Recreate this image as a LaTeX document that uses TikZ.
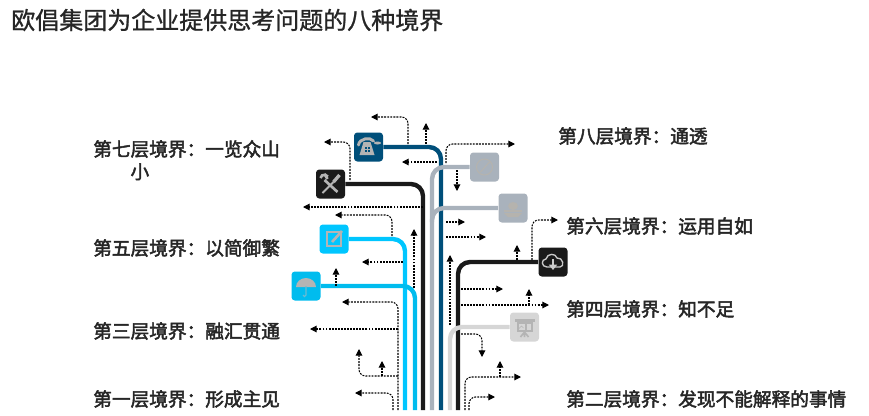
\documentclass[tikz,border=0pt]{standalone}
\usepackage{fontspec}
\setmainfont{Noto Sans CJK SC}
\newfontfamily\levelfont{Noto Sans CJK SC}[FakeBold=2.5]
\newfontfamily\titlefont{Noto Sans CJK SC}[FakeBold=1]
\usetikzlibrary{arrows.meta}
\newcommand{\widecolon}{\symbol{"FF1A}}
\definecolor{phoneblue}{HTML}{004F7A}
\definecolor{toolblack}{HTML}{1A1A1A}
\definecolor{pencilcyan}{HTML}{00C6FF}
\definecolor{umbrellacyan}{HTML}{00BCEE}
\definecolor{slategray}{HTML}{A9B2BC}
\definecolor{palegray}{HTML}{D6D6D6}
\definecolor{icongray}{HTML}{B4B4B4}
\definecolor{faintgray}{HTML}{B5B3AE}
\tikzset{
    icon box/.style = {
        minimum size=21.75pt,
        inner sep=0pt,
        rounded corners=2.5pt,
        },
    branch/.style = {
        line width=3.3pt,
        rounded corners=9pt,
        },
    hint/.style = {
        line width=0.8pt,
        dash pattern=on 1.4pt off 0.9pt,
        rounded corners=5pt,
        -{Triangle[length=5pt,width=5pt]},
        },
    level/.style = {
        anchor=west,
        inner sep=0pt,
        align=left,
        font=\fontsize{14pt}{17pt}\selectfont\levelfont,
        text=black!85,
        },
    phone icon/.pic = {
        \draw[icongray, line width=2.2pt, line cap=round] (-10,-2) .. controls (-9,-9) and (2,-10) .. (5,-6);
        \fill[icongray] (-5,-5) -- (2,-5) -- (6,8) -- (-9,8) -- cycle;
        \fill[phoneblue] (-4,0) rectangle (1,5);
        \draw[icongray, line width=0.6pt] (-1.5,0) -- (-1.5,5) (-4,2.5) -- (1,2.5);
        \fill[icongray] (9,-4) ellipse (3.5 and 1.5);
        },
    tools icon/.pic = {
        \draw[icongray, line width=2pt] (-6,-4) -- (7,8);
        \draw[icongray, line width=2pt] (-10,-6) arc (190:330:4);
        \draw[icongray, line width=2pt] (-3,-5) -- (-6,-10);
        \draw[icongray, line width=2.5pt] (9,-9) -- (3,-2);
        \draw[icongray, line width=1.5pt] (3,-2) -- (-8,9);
        },
    pencil icon/.pic = {
        \draw[icongray, line width=1.3pt] (-7,-7) rectangle (7,7);
        \draw[icongray, line width=2pt] (-2,3) -- (8,-8);
        },
    umbrella icon/.pic = {
        \fill[icongray] (-10,1) arc (180:360:10 and 9) -- cycle;
        \draw[icongray!60!pencilcyan, line width=0.8pt] (0,0) -- (0,9) arc (0:180:1.5);
        },
    slash icon/.pic = {
        \draw[faintgray, line width=0.8pt] (0,0) circle (8);
        \draw[faintgray, line width=0.8pt] (-4,5) -- (5,-5);
        },
    stack icon/.pic = {
        \fill[faintgray] (0,-2) ellipse (5 and 4);
        \draw[faintgray, line width=1.2pt] (-9,3) -- (9,3);
        \fill[faintgray] (-9,5) -- (9,5) -- (5,9) -- (-5,9) -- cycle;
        },
    cloud icon/.pic = {
        \draw[icongray!70!white, line width=1pt] (-6,5) .. controls (-12,5) and (-12,-3) .. (-7,-3) .. controls (-6,-9) and (3,-9) .. (4,-4) .. controls (10,-5) and (12,5) .. (7,5) -- cycle;
        \draw[icongray!70!white, line width=2pt, -{Triangle[length=4pt,width=6pt]}] (0,-3) -- (0,8);
        },
    board icon/.pic = {
        \fill[icongray] (-10,-8) rectangle (10,-5);
        \fill[icongray] (-8,-5) rectangle (8,5);
        \fill[palegray] (-6,-3) rectangle (0,3);
        \draw[icongray, line width=0.5pt] (-6,2) -- (-3,-1) -- (-1,1);
        \draw[palegray, line width=0.8pt] (2,-2) -- (6,-2) (2,0) -- (6,0) (2,2) -- (6,2);
        \draw[icongray, line width=1.2pt] (0,5) -- (0,10) (0,5) -- (-4,10) (0,5) -- (4,10);
        },
}
\begin{document}
\begin{tikzpicture}[x=0.75pt,y=-0.75pt]
    \useasboundingbox (0,0) rectangle (869,415);

    % icon boxes
    \node[icon box, fill=phoneblue] (phone) at (368.5,147) {};
    \node[icon box, fill=toolblack] (tools) at (330.5,184) {};
    \node[icon box, fill=pencilcyan] (pencil) at (334,239) {};
    \node[icon box, fill=umbrellacyan] (umbrella) at (306,286) {};
    \node[icon box, fill=slategray] (slash) at (484.5,167) {};
    \node[icon box, fill=slategray] (stack) at (513,208) {};
    \node[icon box, fill=toolblack] (cloud) at (553,262) {};
    \node[icon box, fill=palegray] (board) at (524.5,327) {};

    \pic at (phone) {phone icon};
    \pic at (tools) {tools icon};
    \pic at (pencil) {pencil icon};
    \pic at (umbrella) {umbrella icon};
    \pic at (slash) {slash icon};
    \pic at (stack) {stack icon};
    \pic at (cloud) {cloud icon};
    \pic at (board) {board icon};

    % branch ends
    \coordinate (phone end) at (441,410);
    \coordinate (tools end) at (423,410);
    \coordinate (pencil end) at (405,410);
    \coordinate (umbrella end) at (415,410);
    \coordinate (slash end) at (432,410);
    \coordinate (stack end) at (432,222);
    \coordinate (cloud end) at (458,410);
    \coordinate (board end) at (450,410);

    \draw[branch, phoneblue] (phone) -| (phone end);
    \draw[branch, toolblack] (tools) -| (tools end);
    \draw[branch, pencilcyan] (pencil) -| (pencil end);
    \draw[branch, umbrellacyan] (umbrella) -| (umbrella end);
    \draw[branch, slategray] (slash) -| (slash end);
    \draw[branch, slategray] (stack) -| (stack end);
    \draw[branch, toolblack] (cloud) -| (cloud end);
    \draw[branch, palegray] (board) -| (board end);

    % hint ends, one pair per arrow
    \coordinate (a1) at (408,144);   \coordinate (a2) at (371,117);
    \coordinate (b1) at (426,144);   \coordinate (b2) at (426,123);
    \coordinate (c1) at (437,162);   \coordinate (c2) at (402,162);
    \coordinate (d1) at (350,180);   \coordinate (d2) at (324,142);
    \coordinate (e1) at (423,207);   \coordinate (e2) at (303,207);
    \coordinate (f1) at (392,236);   \coordinate (f2) at (335,215);
    \coordinate (g1) at (414,288);   \coordinate (g2) at (414,229);
    \coordinate (h1) at (446,163);   \coordinate (h2) at (515,144);
    \coordinate (i1) at (457,170);   \coordinate (i2) at (457,191);
    \coordinate (j1) at (446,222);   \coordinate (j2) at (465,222);
    \coordinate (k1) at (446,237);   \coordinate (k2) at (486,237);
    \coordinate (l1) at (450,325);   \coordinate (l2) at (450,255);
    \coordinate (m1) at (532,260);   \coordinate (m2) at (558,220);
    \coordinate (n1) at (517,260);   \coordinate (n2) at (517,245);
    \coordinate (o1) at (461,289);   \coordinate (o2) at (503,289);
    \coordinate (p1) at (461,305);   \coordinate (p2) at (549,305);
    \coordinate (q1) at (529,305);   \coordinate (q2) at (529,289);
    \coordinate (r1) at (461,334);   \coordinate (r2) at (482,357);
    \coordinate (s1) at (465,410);   \coordinate (s2) at (521,377);
    \coordinate (t1) at (500,377);   \coordinate (t2) at (500,361);
    \coordinate (u1) at (469,410);   \coordinate (u2) at (495,397);
    \coordinate (v1) at (403,262);   \coordinate (v2) at (362,262);
    \coordinate (w1) at (336,286);   \coordinate (w2) at (336,268);
    \coordinate (x1) at (398,410);   \coordinate (x2) at (342,302);
    \coordinate (y1) at (398,329);   \coordinate (y2) at (310,329);
    \coordinate (z1) at (398,376);   \coordinate (z2) at (359,349);
    \coordinate (aa1) at (382,376);  \coordinate (aa2) at (382,361);
    \coordinate (ab1) at (393,410);  \coordinate (ab2) at (355,393);

    \draw[hint] (a1) |- (a2);
    \draw[hint] (b1) -- (b2);
    \draw[hint] (c1) -- (c2);
    \draw[hint] (d1) |- (d2);
    \draw[hint] (e1) -- (e2);
    \draw[hint] (f1) |- (f2);
    \draw[hint] (g1) -- (g2);
    \draw[hint] (h1) |- (h2);
    \draw[hint] (i1) -- (i2);
    \draw[hint] (j1) -- (j2);
    \draw[hint] (k1) -- (k2);
    \draw[hint] (l1) -- (l2);
    \draw[hint] (m1) |- (m2);
    \draw[hint] (n1) -- (n2);
    \draw[hint] (o1) -- (o2);
    \draw[hint] (p1) -- (p2);
    \draw[hint] (q1) -- (q2);
    \draw[hint] (r1) -| (r2);
    \draw[hint] (s1) |- (s2);
    \draw[hint] (t1) -- (t2);
    \draw[hint] (u1) |- (u2);
    \draw[hint] (v1) -- (v2);
    \draw[hint] (w1) -- (w2);
    \draw[hint] (x1) |- (x2);
    \draw[hint] (y1) -- (y2);
    \draw[hint] (z1) -| (z2);
    \draw[hint] (aa1) -- (aa2);
    \draw[hint] (ab1) |- (ab2);

    % texts
    \node[anchor=west, inner sep=0pt, font=\fontsize{18pt}{22pt}\selectfont\titlefont, text=black!85] (title) at (11,20) {欧倡集团为企业提供思考问题的八种境界};
    \node[level, anchor=north west] (level7) at (93,140) {第七层境界\widecolon{}一览众山\\\hspace*{2em}小};
    \node[level] (level5) at (93,248) {第五层境界\widecolon{}以简御繁};
    \node[level] (level3) at (93,331) {第三层境界\widecolon{}融汇贯通};
    \node[level] (level1) at (93,399) {第一层境界\widecolon{}形成主见};
    \node[level] (level8) at (558,136) {第八层境界\widecolon{}通透};
    \node[level] (level6) at (566,226) {第六层境界\widecolon{}运用自如};
    \node[level] (level4) at (566,309) {第四层境界\widecolon{}知不足};
    \node[level] (level2) at (566,399) {第二层境界\widecolon{}发现不能解释的事情};
\end{tikzpicture}
\end{document}
